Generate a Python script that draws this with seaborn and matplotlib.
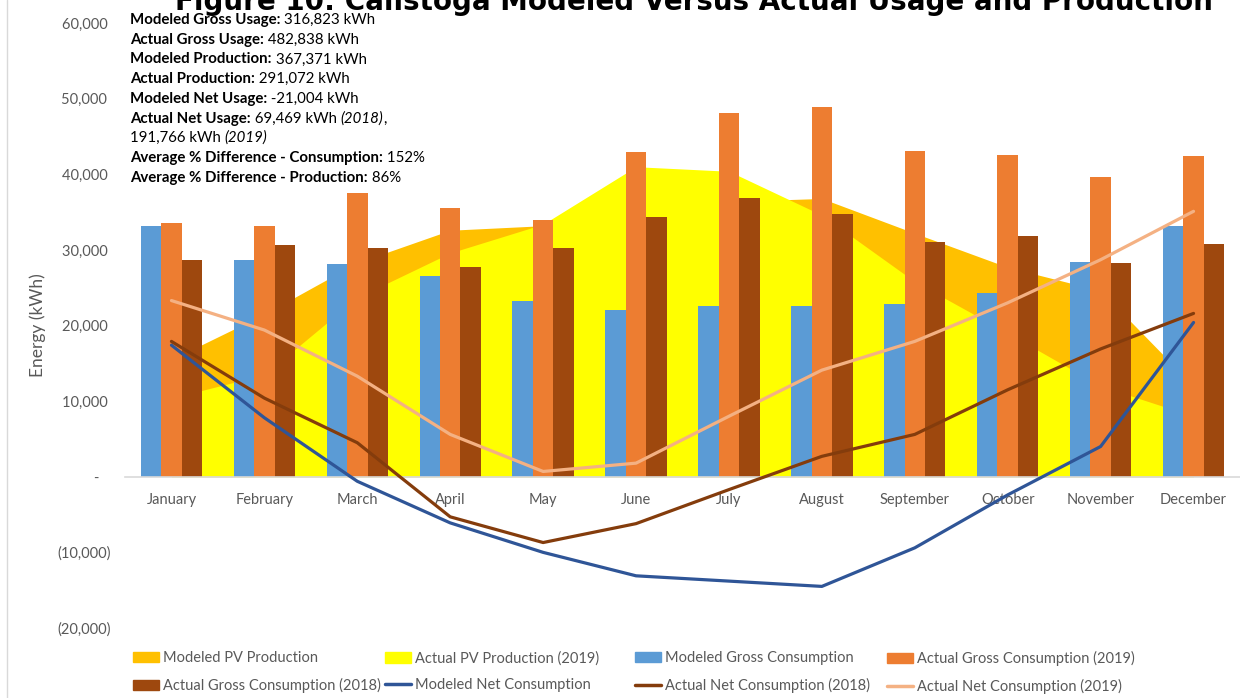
import numpy as np
import pandas as pd
import matplotlib.pyplot as plt
import seaborn as sns
from matplotlib.patches import Patch
from matplotlib.lines import Line2D
from matplotlib.ticker import FuncFormatter

months = ["January", "February", "March", "April", "May", "June", "July",
          "August", "September", "October", "November", "December"]

# monthly energy, kWh
modeled_gross = [33100, 28600, 28200, 26600, 23200, 22000, 22600, 22600, 22800, 24300, 28400, 33200]
actual_gross_2019 = [33600, 33100, 37500, 35600, 33900, 42900, 48100, 48900, 43100, 42500, 39600, 42400]
actual_gross_2018 = [28700, 30700, 30300, 27800, 30200, 34300, 36900, 34800, 31000, 31900, 28300, 30800]
modeled_pv = [15500, 21500, 28300, 32600, 33200, 35100, 36400, 36800, 32200, 27700, 24600, 12000]
actual_pv_2019 = [10400, 13500, 23700, 29600, 33400, 41000, 40400, 34600, 25800, 19000, 12000, 8000]
modeled_net = [17400, 7800, -600, -6100, -10000, -13100, -13800, -14500, -9400, -2400, 4000, 20400]
actual_net_2018 = [17900, 10400, 4500, -5300, -8700, -6200, -1700, 2700, 5600, 11500, 16900, 21600]
actual_net_2019 = [23300, 19400, 13300, 5600, 700, 1800, 8000, 14100, 17900, 23000, 28700, 35100]

bar_series = ["Modeled Gross Consumption", "Actual Gross Consumption (2019)", "Actual Gross Consumption (2018)"]
bar_colors = ["#5B9BD5", "#ED7D31", "#9E480E"]

summary = [
    [("Modeled Gross Usage:", "bold"), (" 316,823 kWh", "normal")],
    [("Actual Gross Usage:", "bold"), (" 482,838 kWh", "normal")],
    [("Modeled Production:", "bold"), (" 367,371 kWh", "normal")],
    [("Actual Production:", "bold"), (" 291,072 kWh", "normal")],
    [("Modeled Net Usage:", "bold"), (" -21,004 kWh", "normal")],
    [("Actual Net Usage:", "bold"), (" 69,469 kWh ", "normal"), ("(2018)", "italic"), (",", "normal")],
    [("191,766 kWh ", "normal"), ("(2019)", "italic")],
    [("Average % Difference - Consumption:", "bold"), (" 152%", "normal")],
    [("Average % Difference - Production:", "bold"), (" 86%", "normal")],
]

sns.set_theme(style="white")
plt.rcParams['font.family'] = ['Lato', 'DejaVu Sans']
grey = "#595959"

fig = plt.figure(figsize=(12.4, 6.98), dpi=100)
ax = fig.add_axes([0.1008, 0.1003, 0.8992, 0.8667])

x = np.arange(len(months))
ax.fill_between(x, 0, modeled_pv, color="#FFC000", lw=0, zorder=1)
ax.fill_between(x, 0, actual_pv_2019, color="#FFFF00", lw=0, zorder=1.1)

bars = pd.DataFrame({
    "month": months * 3,
    "series": [s for s in bar_series for _ in months],
    "value": modeled_gross + actual_gross_2019 + actual_gross_2018,
})
sns.barplot(data=bars, x="month", y="value", hue="series", hue_order=bar_series,
            palette=bar_colors, width=0.66, gap=0, saturation=1, legend=False,
            linewidth=0, ax=ax, zorder=2)

sns.lineplot(x=x, y=modeled_net, color="#2F5597", lw=2.3, ax=ax, zorder=3)
sns.lineplot(x=x, y=actual_net_2018, color="#843C0C", lw=2.3, ax=ax, zorder=3)
sns.lineplot(x=x, y=actual_net_2019, color="#F4B183", lw=2.3, ax=ax, zorder=3)

ax.set_xlim(-0.5, 11.5)
ax.set_ylim(-20000, 60000)
ax.set_yticks(range(-20000, 60001, 10000))


def acct(v, pos):
    if v == 0:
        return "-   "
    if v < 0:
        return f"({-v:,.0f})"
    return f"{v:,.0f} "


ax.yaxis.set_major_formatter(FuncFormatter(acct))
ax.set_xticks(x)
ax.set_xticklabels(months)
ax.set_xlabel("")
ax.set_ylabel("Energy (kWh)", color=grey, fontsize=12.5, labelpad=8)
for s in ["top", "right", "left"]:
    ax.spines[s].set_visible(False)
ax.spines["bottom"].set_position(("data", 0))
ax.spines["bottom"].set_color("#D9D9D9")
ax.spines["bottom"].set_linewidth(1.2)
ax.tick_params(axis="x", length=0, pad=12, labelsize=10.5, labelcolor=grey)
ax.tick_params(axis="y", length=0, pad=10, labelsize=10.5, labelcolor=grey)
ax.patch.set_alpha(0)

# summary text block, bold labels followed by regular values
for i, parts in enumerate(summary):
    prev = None
    for txt, style in parts:
        kw = dict(fontsize=10.8, color="black", ha="left")
        if style == "bold":
            kw["fontweight"] = "bold"
        elif style == "italic":
            kw["fontstyle"] = "italic"
        if prev is None:
            prev = fig.text(130 / 1240, 1 - (20 + i * 19.7) / 698, txt, va="center", **kw)
        else:
            prev = ax.annotate(txt, xy=(1, 0), xycoords=prev, va="bottom",
                               annotation_clip=False, **kw)

fig.text(0.56, 1 - 10 / 698, "Figure 10: Calistoga Modeled Versus Actual Usage and Production",
         fontfamily="DejaVu Sans", fontweight="bold", fontsize=20, ha="center",
         va="baseline", color="black")

# legend, laid out in four equal columns like the original
handles = [
    Patch(color="#FFC000"), Patch(color="#FFFF00"), Patch(color=bar_colors[0]), Patch(color=bar_colors[1]),
    Patch(color=bar_colors[2]), Line2D([], [], color="#2F5597", lw=2.5),
    Line2D([], [], color="#843C0C", lw=2.5), Line2D([], [], color="#F4B183", lw=2.5),
]
labels = ["Modeled PV Production", "Actual PV Production (2019)", "Modeled Gross Consumption",
          "Actual Gross Consumption (2019)", "Actual Gross Consumption (2018)",
          "Modeled Net Consumption", "Actual Net Consumption (2018)", "Actual Net Consumption (2019)"]
for c, left in enumerate([133, 385, 635, 887]):
    fig.legend([handles[c], handles[c + 4]], [labels[c], labels[c + 4]],
               loc="upper left", bbox_to_anchor=(left / 1240, 1 - 651 / 698),
               frameon=False, fontsize=10.5, labelcolor=grey, borderpad=0,
               borderaxespad=0, handlelength=1.75, handleheight=0.75,
               handletextpad=0.3, labelspacing=0.9)

fig.add_artist(Line2D([7 / 1240, 7 / 1240], [0, 1], color="#D9D9D9", lw=1))

fig.savefig("out.png", dpi=100)
